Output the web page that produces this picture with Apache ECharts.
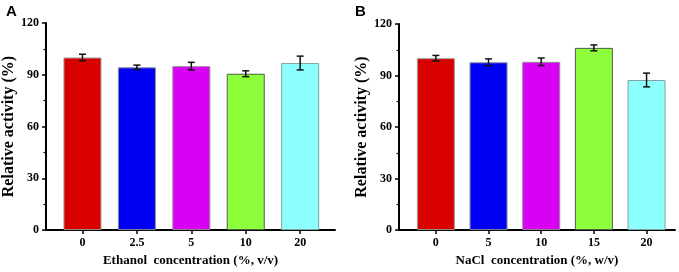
<!DOCTYPE html>
<html>
<head>
<meta charset="utf-8">
<script src="https://cdn.jsdelivr.net/npm/echarts@6/dist/echarts.min.js"></script>
<style>
html, body { margin: 0; padding: 0; background: #fff; }
#chart { width: 679px; height: 272px; }
</style>
</head>
<body>
<div id="chart"></div>
<script>
// panel A: ethanol
var ethanolCats = ["0", "2.5", "5", "10", "20"];
var ethanolVals = [100, 94.3, 95.0, 90.6, 96.8];
var ethanolErr = [1.9, 1.3, 2.2, 1.7, 4.0];
// panel B: NaCl
var naclCats = ["0", "5", "10", "15", "20"];
var naclVals = [100.1, 97.7, 98.0, 106.1, 87.4];
var naclErr = [1.6, 2.0, 2.2, 1.7, 4.0];
var yTicks = [0, 30, 60, 90, 120];

var barColors = ["#d90000", "#0000f5", "#d800f5", "#8cff3a", "#8cffff"];
var barBorders = ["#9a9a9a", "#8a8a9a", "#9a8a9a", "#4d5d4d", "#7fa3a3"];
var serif = "Liberation Serif";

function xAxisOf(cats, min, max, name, grid) {
  return {
    type: "value",
    gridIndex: grid,
    min: min,
    max: max,
    name: name,
    nameLocation: "middle",
    nameGap: 22,
    nameTextStyle: { fontFamily: serif, fontWeight: "bold", fontSize: 13, color: "#000" },
    splitLine: { show: false },
    axisLine: { onZero: false, lineStyle: { color: "#000", width: 2 } },
    axisTick: {
      show: true, length: 4, inside: false,
      lineStyle: { color: "#000", width: 1.5 },
      customValues: cats.map(function (c, i) { return i; })
    },
    axisLabel: {
      margin: 7,
      fontFamily: serif, fontWeight: "bold", fontSize: 12, color: "#000",
      customValues: cats.map(function (c, i) { return i; }),
      formatter: function (v) { return cats[Math.round(v)]; }
    }
  };
}

function yAxisOf(grid) {
  return {
    type: "value",
    gridIndex: grid,
    min: yTicks[0],
    max: yTicks[yTicks.length - 1],
    interval: 30,
    name: "Relative activity (%)",
    nameLocation: "middle",
    nameGap: 29,
    nameTextStyle: { fontFamily: serif, fontWeight: "bold", fontSize: 16, color: "#000" },
    splitLine: { show: false },
    axisLine: { show: true, onZero: false, lineStyle: { color: "#000", width: 2 } },
    axisTick: { show: true, length: 4, lineStyle: { color: "#000", width: 1.5 } },
    minorTick: { show: true, splitNumber: 2, length: 2.5, lineStyle: { color: "#000", width: 1.2 } },
    axisLabel: { margin: 7, fontFamily: serif, fontWeight: "bold", fontSize: 12, color: "#000" }
  };
}

function barSeries(vals, idx) {
  return {
    type: "bar",
    xAxisIndex: idx,
    yAxisIndex: idx,
    barWidth: 38,
    data: vals.map(function (v, i) {
      return {
        value: [i, v],
        itemStyle: { color: barColors[i], borderColor: barBorders[i], borderWidth: 1 }
      };
    })
  };
}

function errSeries(vals, errs, idx) {
  return {
    type: "custom",
    xAxisIndex: idx,
    yAxisIndex: idx,
    z: 5,
    data: vals.map(function (v, i) { return [i, v + errs[i], v - errs[i]]; }),
    renderItem: function (params, api) {
      var top = api.coord([api.value(0), api.value(1)]);
      var bot = api.coord([api.value(0), api.value(2)]);
      var cap = 3.5;
      var style = { stroke: "#111", lineWidth: 1.5 };
      return {
        type: "group",
        children: [
          { type: "line", shape: { x1: top[0], y1: top[1], x2: bot[0], y2: bot[1] }, style: style },
          { type: "line", shape: { x1: top[0] - cap, y1: top[1], x2: top[0] + cap, y2: top[1] }, style: style },
          { type: "line", shape: { x1: bot[0] - cap, y1: bot[1], x2: bot[0] + cap, y2: bot[1] }, style: style }
        ]
      };
    }
  };
}

var chart = echarts.init(document.getElementById("chart"));
var option = {
  animation: false,
  backgroundColor: "#fff",
  title: [
    { text: "A", left: 1, top: -1, textStyle: { fontFamily: "Liberation Sans", fontWeight: "bold", fontSize: 15, color: "#000" } },
    { text: "B", left: 350, top: -1, textStyle: { fontFamily: "Liberation Sans", fontWeight: "bold", fontSize: 15, color: "#000" } }
  ],
  grid: [
    { left: 46, top: 23, width: 289, height: 213 },
    { left: 399, top: 24, width: 276, height: 212 }
  ],
  xAxis: [
    xAxisOf(ethanolCats, -0.67, 4.64, "Ethanol  concentration (%, v/v)", 0),
    xAxisOf(naclCats, -0.70, 4.54, "NaCl  concentration (%, w/v)", 1)
  ],
  yAxis: [yAxisOf(0), yAxisOf(1)],
  series: [
    barSeries(ethanolVals, 0),
    errSeries(ethanolVals, ethanolErr, 0),
    barSeries(naclVals, 1),
    errSeries(naclVals, naclErr, 1)
  ]
};
chart.setOption(option);
</script>
</body>
</html>
